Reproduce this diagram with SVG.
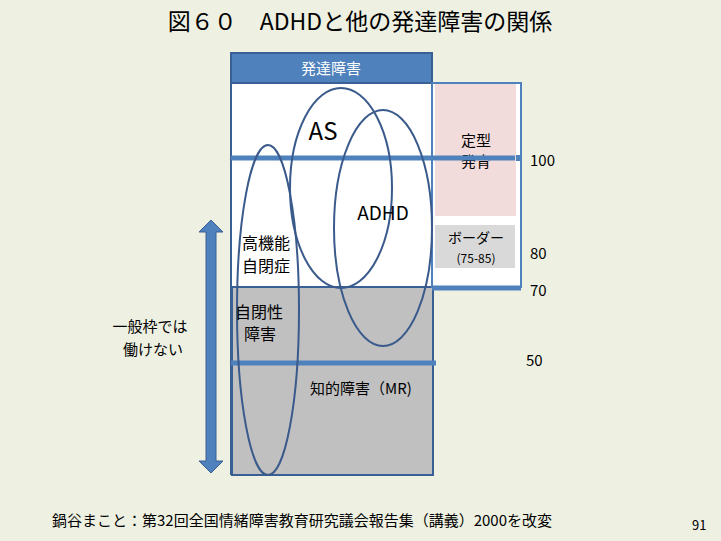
<svg xmlns="http://www.w3.org/2000/svg" width="721" height="541" viewBox="0 0 721 541">
<style>
text{font-family:"Noto Sans CJK JP","Noto Sans",sans-serif;fill:#000}
.e{fill:none;stroke:#3a5a8c;stroke-width:2}
.b{stroke:#4f81bd;stroke-width:5}
</style>
<rect width="721" height="541" fill="#eef0e2"/>
<text x="360" y="30" font-size="23" text-anchor="middle">図６０　ADHDと他の発達障害の関係</text>
<g id="header"><rect x="231" y="53" width="201" height="30" fill="#4f81bd" stroke="#3a5f94" stroke-width="2"/><text x="331" y="74" font-size="15" fill="#fff" style="fill:#fff" text-anchor="middle">発達障害</text></g>
<g id="main">
<rect x="231" y="84" width="201" height="203" fill="#fff"/>
<rect x="232" y="287" width="201" height="188" fill="#c0c0c0" stroke="#3a5f94" stroke-width="2"/>
<line x1="231" y1="84" x2="231" y2="475" stroke="#3a5f94" stroke-width="2"/>
</g>
<g id="right">
<rect x="432" y="83" width="89" height="204" fill="#fff" stroke="#4f81bd" stroke-width="2"/>
<rect x="435" y="84" width="81" height="132" fill="#f2dcdb"/>
<text x="476" y="146" font-size="15" text-anchor="middle">定型</text>
<text x="476" y="167" font-size="15" text-anchor="middle">発育</text>
<rect x="435" y="225" width="80" height="43" fill="#d9d9d9"/>
<text x="476" y="243" font-size="14" text-anchor="middle">ボーダー</text>
<text x="476" y="263" font-size="12" font-family="Open Sans" text-anchor="middle">(75-85)</text>
</g>
<g id="connectors">
<line class="b" x1="231" y1="158" x2="515" y2="158"/>
<rect x="516" y="155" width="5" height="6" fill="#4f81bd"/>
<line class="b" x1="432" y1="288" x2="521" y2="288"/>
<line class="b" x1="231" y1="363" x2="436" y2="363"/>
<polygon points="211,220 223,232 216,232 216,461 223,461 211,473 199,461 206,461 206,232 199,232" fill="#4f81bd" stroke="#3a5f94" stroke-width="1"/>
</g>
<g id="ellipses">
<ellipse class="e" cx="268" cy="310" rx="31" ry="165"/>
<ellipse class="e" cx="341" cy="188" rx="51" ry="100"/>
<ellipse class="e" cx="383" cy="228" rx="49" ry="118"/>
</g>
<g id="labels">
<text x="323" y="140" font-size="24" font-family="Open Sans" text-anchor="middle">AS</text>
<text x="383" y="220" font-size="19" font-family="Open Sans" text-anchor="middle">ADHD</text>
<text x="266" y="249" font-size="16" text-anchor="middle">高機能</text>
<text x="266" y="272" font-size="16" text-anchor="middle">自閉症</text>
<text x="259" y="318" font-size="16" text-anchor="middle">自閉性</text>
<text x="260" y="340" font-size="16" text-anchor="middle">障害</text>
<text x="361" y="394" font-size="15" text-anchor="middle">知的障害（MR)</text>
<text x="150" y="332" font-size="15" text-anchor="middle">一般枠では</text>
<text x="153" y="355" font-size="15" text-anchor="middle">働けない</text>
<text x="530" y="166" font-size="15" font-family="DejaVu Sans">100</text>
<text x="530" y="259" font-size="15" font-family="DejaVu Sans">80</text>
<text x="530" y="296" font-size="15" font-family="DejaVu Sans">70</text>
<text x="526" y="366" font-size="15" font-family="DejaVu Sans">50</text>
<text x="52" y="526" font-size="15">鍋谷まこと：第32回全国情緒障害教育研究議会報告集（講義）2000を改変</text>
<text x="692" y="530" font-size="13" font-family="Liberation Sans">91</text>
</g>
</svg>
